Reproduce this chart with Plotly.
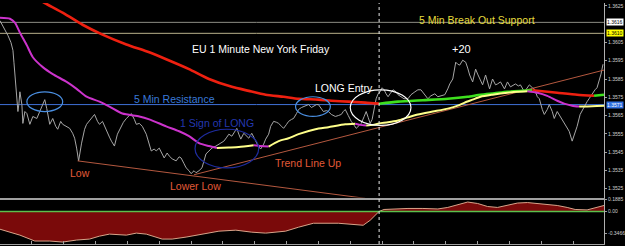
import plotly.graph_objects as go

# ---------------- data ----------------
bars = [0, 4, 8, 11, 13, 14, 15, 16, 17, 18, 19, 20, 22, 23, 25, 27, 30, 33, 37, 40,
        43, 45, 47, 50, 53, 56, 58, 61, 63, 66, 70, 73, 75, 77, 79, 82, 85, 87, 90, 92,
        95, 98, 100, 103, 107, 110, 112, 115, 118, 121, 124, 127, 130, 132, 135, 137, 140, 143, 147, 150,
        152, 155, 157, 160, 163, 165, 168, 170, 173, 177, 180, 182, 185, 187, 190, 192, 195, 197, 200, 203,
        205, 207, 210, 213, 217, 220, 223, 225, 228, 230, 233, 235, 238, 240, 242, 245, 248, 250, 253, 256,
        258, 260, 262, 265, 267, 270, 272, 275, 278, 280, 283, 285, 288, 290, 293, 295, 298, 300, 303, 305,
        308, 310, 313, 315, 318, 320, 323, 325, 328, 330, 333, 337, 340, 343, 345, 347, 350, 353, 356, 358,
        361, 363, 366, 368, 370, 372, 374, 375, 377, 378, 380, 382, 384, 386, 388, 390, 392, 395, 398, 400,
        403, 406, 410, 413, 417, 420, 423, 427, 430, 433, 437, 440, 443, 447, 450, 452, 455, 457, 458, 460,
        462, 465, 468, 470, 472, 475, 477, 478, 480, 482, 485, 488, 490, 492, 495, 498, 500, 503, 507, 510,
        513, 516, 518, 521, 523, 527, 530, 532, 535, 537, 540, 542, 545, 547, 550, 552, 555, 557, 560, 563,
        567, 570, 572, 575, 578, 580, 583, 586, 588, 590, 592, 594, 596, 598, 600, 602, 604, 606]
price = [1.36169, 1.36131, 1.36088, 1.36050, 1.36007, 1.35942, 1.35861, 1.35791, 1.35726, 1.35672,
         1.35715, 1.35780, 1.35710, 1.35607, 1.35672, 1.35661, 1.35602, 1.35645, 1.35634, 1.35672,
         1.35710, 1.35737, 1.35688, 1.35602, 1.35634, 1.35591, 1.35575, 1.35618, 1.35602, 1.35591,
         1.35580, 1.35553, 1.35526, 1.35472, 1.35402, 1.35499, 1.35575, 1.35602, 1.35623, 1.35634,
         1.35656, 1.35618, 1.35602, 1.35618, 1.35564, 1.35532, 1.35510, 1.35483, 1.35548, 1.35580,
         1.35613, 1.35634, 1.35650, 1.35661, 1.35629, 1.35602, 1.35607, 1.35591, 1.35548, 1.35494,
         1.35456, 1.35467, 1.35456, 1.35472, 1.35440, 1.35418, 1.35445, 1.35429, 1.35413, 1.35402,
         1.35424, 1.35418, 1.35386, 1.35364, 1.35348, 1.35332, 1.35348, 1.35337, 1.35348, 1.35364,
         1.35402, 1.35440, 1.35456, 1.35472, 1.35483, 1.35494, 1.35505, 1.35510, 1.35532, 1.35548,
         1.35537, 1.35553, 1.35580, 1.35548, 1.35521, 1.35553, 1.35537, 1.35526, 1.35553, 1.35521,
         1.35494, 1.35478, 1.35467, 1.35494, 1.35521, 1.35548, 1.35591, 1.35618, 1.35613, 1.35607,
         1.35591, 1.35580, 1.35602, 1.35618, 1.35629, 1.35634, 1.35661, 1.35683, 1.35694, 1.35699,
         1.35704, 1.35710, 1.35694, 1.35699, 1.35710, 1.35710, 1.35688, 1.35672, 1.35677, 1.35672,
         1.35656, 1.35645, 1.35650, 1.35656, 1.35672, 1.35683, 1.35650, 1.35618, 1.35596, 1.35580,
         1.35596, 1.35607, 1.35645, 1.35672, 1.35640, 1.35607, 1.35629, 1.35656, 1.35704, 1.35742,
         1.35769, 1.35780, 1.35802, 1.35791, 1.35769, 1.35753, 1.35769, 1.35791, 1.35780, 1.35764,
         1.35753, 1.35742, 1.35742, 1.35764, 1.35780, 1.35791, 1.35791, 1.35764, 1.35742, 1.35758,
         1.35769, 1.35753, 1.35758, 1.35764, 1.35796, 1.35823, 1.35850, 1.35899, 1.35942, 1.35931,
         1.35926, 1.35953, 1.35942, 1.35910, 1.35872, 1.35834, 1.35877, 1.35904, 1.35877, 1.35850,
         1.35818, 1.35872, 1.35834, 1.35796, 1.35850, 1.35818, 1.35823, 1.35834, 1.35796, 1.35834,
         1.35807, 1.35818, 1.35823, 1.35812, 1.35818, 1.35780, 1.35802, 1.35818, 1.35802, 1.35796,
         1.35753, 1.35742, 1.35683, 1.35656, 1.35683, 1.35710, 1.35672, 1.35634, 1.35672, 1.35645,
         1.35602, 1.35580, 1.35564, 1.35510, 1.35553, 1.35591, 1.35656, 1.35688, 1.35710, 1.35726,
         1.35742, 1.35758, 1.35780, 1.35791, 1.35802, 1.35834, 1.35877, 1.35931]

slow_ma_bars = [0, 20, 45, 65, 83, 103, 127, 150, 167, 190, 210, 233, 250, 267, 285, 300, 320, 333,
                350, 367, 381, 400, 425, 450, 470, 483, 497, 510, 525, 535, 545, 560, 580, 597, 607]
slow_ma = [1.36406, 1.36342, 1.36266, 1.36207, 1.36147, 1.36093, 1.36039, 1.35996, 1.35958, 1.35904,
           1.35850, 1.35807, 1.35785, 1.35764, 1.35753, 1.35742, 1.35737, 1.35731, 1.35726, 1.35721,
           1.35715, 1.35726, 1.35734, 1.35742, 1.35753, 1.35764, 1.35772, 1.35780, 1.35785, 1.35788,
           1.35783, 1.35775, 1.35764, 1.35758, 1.35764]

fast_ma_bars = [0, 10, 15, 20, 27, 33, 43, 53, 67, 77, 87, 100, 110, 123, 140, 150, 167, 180, 190, 200,
                210, 218, 230, 240, 255, 262, 270, 280, 290, 300, 317, 330, 347, 357, 362, 368, 375, 381,
                390, 400, 410, 420, 435, 450, 460, 467, 475, 483, 495, 510, 520, 530, 540, 550, 560, 567,
                575, 582, 590, 600, 607]
fast_ma = [1.36185, 1.36180, 1.36158, 1.36104, 1.36034, 1.35969, 1.35915, 1.35877, 1.35834, 1.35796,
           1.35753, 1.35726, 1.35699, 1.35661, 1.35645, 1.35629, 1.35591, 1.35564, 1.35537, 1.35499,
           1.35483, 1.35472, 1.35475, 1.35478, 1.35488, 1.35483, 1.35480, 1.35510, 1.35526, 1.35548,
           1.35575, 1.35586, 1.35602, 1.35605, 1.35599, 1.35596, 1.35599, 1.35607, 1.35613, 1.35623,
           1.35640, 1.35656, 1.35672, 1.35688, 1.35704, 1.35721, 1.35737, 1.35753, 1.35764, 1.35775,
           1.35780, 1.35783, 1.35775, 1.35758, 1.35731, 1.35715, 1.35704, 1.35699, 1.35700, 1.35702,
           1.35704]

osc_bars = [0, 7, 20, 35, 50, 63, 77, 90, 100, 110, 127, 137, 147, 163, 173, 187, 207, 220, 237, 253,
            267, 287, 300, 315, 340, 355, 365, 372, 377, 381, 386, 395, 410, 425, 440, 450, 460, 470,
            480, 490, 500, 510, 520, 530, 540, 550, 560, 570, 578, 590, 600, 607]
osc = [-0.283, -0.314, -0.377, -0.471, -0.471, -0.487, -0.455, -0.440, -0.393, -0.361,
       -0.377, -0.345, -0.361, -0.440, -0.440, -0.408, -0.345, -0.314, -0.298, -0.330,
       -0.345, -0.314, -0.251, -0.188, -0.188, -0.204, -0.220, -0.141, -0.063, 0.0,
       0.031, 0.039, 0.047, 0.047, 0.039, 0.063, 0.110, 0.149, 0.126, 0.078,
       0.063, 0.094, 0.133, 0.141, 0.126, 0.110, 0.094, 0.063, 0.031, 0.024,
       0.063, 0.094]

price_ticks = [1.3625, 1.3605, 1.3595, 1.3585, 1.3575, 1.3565, 1.3555, 1.3545, 1.3535, 1.3525]
osc_ticks = [0.1885, 0.0, -0.3466]
osc_tick_labels = ["0.1885", "0.00", "-0.3466"]

level_top = 1.3616        # grey horizontal line
level_support = 1.3610    # 5 Min Break Out Support
level_resist = 1.3571     # 5 Min Resistance
entry_bar = 381

trend_low_bars = [78, 367]
trend_low_price = [1.35402, 1.35197]
trend_up_bars = [195, 607]
trend_up_price = [1.35326, 1.35899]

# ellipses: (bar0, bar1, price_low, price_high)
ell_blue1 = (27, 63, 1.35672, 1.35780)
ell_blue2 = (297, 332, 1.35645, 1.35753)
ell_navy = (196, 260, 1.35364, 1.35575)
ell_white = (352, 413, 1.35596, 1.35791)

# ---------------- helpers ----------------
def runs(xs, ys):
    out = []
    start = 0
    cur = ys[1] >= ys[0]
    for i in range(1, len(ys)):
        r = ys[i] >= ys[i - 1]
        if r != cur:
            out.append((cur, xs[start:i], ys[start:i]))
            start = i - 1
            cur = r
    out.append((cur, xs[start:], ys[start:]))
    return out

FONT = "Liberation Sans, Arial, sans-serif"
fig = go.Figure()

# price line
fig.add_trace(go.Scatter(x=bars, y=price, mode="lines",
                         line=dict(color="#a6a6a6", width=1), xaxis="x", yaxis="y",
                         hoverinfo="skip"))

# trend lines
for xs, ys in ((trend_low_bars, trend_low_price), (trend_up_bars, trend_up_price)):
    fig.add_trace(go.Scatter(x=xs, y=ys, mode="lines", line=dict(color="#b4583f", width=1),
                             xaxis="x", yaxis="y", hoverinfo="skip", cliponaxis=True))

# slow MA (red falling / green rising)
for rising, xs, ys in runs(slow_ma_bars, slow_ma):
    fig.add_trace(go.Scatter(x=xs, y=ys, mode="lines",
                             line=dict(color="#3ee01e" if rising else "#ee2010", width=2.6,
                                       shape="spline", smoothing=0.6),
                             xaxis="x", yaxis="y", hoverinfo="skip"))

# fast MA (magenta falling / yellow rising)
for rising, xs, ys in runs(fast_ma_bars, fast_ma):
    fig.add_trace(go.Scatter(x=xs, y=ys, mode="lines",
                             line=dict(color="#ffff8a" if rising else "#cc33cc", width=2,
                                       shape="spline", smoothing=0.6),
                             xaxis="x", yaxis="y", hoverinfo="skip"))

# oscillator
fig.add_trace(go.Scatter(x=osc_bars, y=osc, mode="lines", fill="tozeroy",
                         fillcolor="#7a0a0a", line=dict(color="#d8a48a", width=1),
                         xaxis="x2", yaxis="y2", hoverinfo="skip"))

shapes = []
for lvl, col in ((level_top, "#8c8c84"), (level_support, "#b8b08a"), (level_resist, "#3f70d6")):
    shapes.append(dict(type="line", xref="paper", x0=0, x1=1, yref="y", y0=lvl, y1=lvl,
                       line=dict(color=col, width=1), layer="below"))
shapes.append(dict(type="line", xref="paper", x0=0, x1=1, yref="y2", y0=0, y1=0,
                   line=dict(color="#5cc04c", width=1.5)))
for (b0, b1, p0, p1), col in ((ell_blue1, "#4a8ee0"), (ell_blue2, "#4a8ee0"),
                              (ell_navy, "#1e2c9e"), (ell_white, "#ffffff")):
    shapes.append(dict(type="circle", xref="x", yref="y", x0=b0, x1=b1, y0=p0, y1=p1,
                       line=dict(color=col, width=1.2)))
shapes.append(dict(type="line", xref="x", x0=entry_bar, x1=entry_bar, yref="paper", y0=0, y1=1,
                   line=dict(color="#e8e8e8", width=1, dash="3px,3px")))

annotations = []
def txt(x, y, s, color, size=10):
    annotations.append(dict(x=x, y=y, xref="x", yref="y", text=s, showarrow=False,
                            xanchor="left", yanchor="middle",
                            font=dict(family=FONT, size=size, color=color)))

txt(191, 1.36012, "EU 1 Minute New York Friday", "#ffffff", 10.5)
txt(133, 1.35742, "5 Min Resistance", "#3a7ad8", 10.5)
txt(315, 1.35802, "LONG Entry", "#ffffff", 10.5)
txt(452, 1.36012, "+20", "#ffffff", 11)
txt(419, 1.36174, "5 Min Break Out Support", "#e6dc3c", 10.5)
txt(179, 1.35607, "1 Sign of LONG", "#2438b0", 10.5)
txt(274, 1.35391, "Trend Line Up", "#e05a38", 10.5)
txt(68, 1.35337, "Low", "#e05a38", 10.5)
txt(169, 1.35262, "Lower Low", "#e05a38", 10.5)

for lvl, bg, fg in ((level_top, "#ffffff", "#000000"), (level_support, "#ffff00", "#000000"),
                    (level_resist, "#2f6fe0", "#ffffff")):
    annotations.append(dict(x=1, xref="paper", y=lvl, yref="y", text=f"{lvl:.4f}",
                            showarrow=False, xanchor="left", yanchor="middle", xshift=2,
                            bgcolor=bg, borderpad=0,
                            font=dict(family=FONT, size=5, color=fg)))

axis_font = dict(family=FONT, size=5, color="#d0d0d0")
fig.update_layout(
    width=625, height=246,
    margin=dict(l=0, r=18, t=0, b=2),
    paper_bgcolor="#000000", plot_bgcolor="#000000",
    showlegend=False,
    xaxis=dict(domain=[0, 1], range=[0, 607], anchor="y", showticklabels=False,
               showgrid=False, zeroline=False, showline=True, linecolor="#a0a0a0",
               linewidth=1, ticks=""),
    yaxis=dict(domain=[0.1926, 1], range=[1.35201, 1.36266], anchor="x", side="right",
               tickvals=price_ticks, tickformat=".4f", tickfont=axis_font,
               ticks="outside", ticklen=2, tickcolor="#a0a0a0",
               showgrid=False, zeroline=False, showline=True, linecolor="#b0b0b0"),
    xaxis2=dict(domain=[0, 1], range=[0, 607], anchor="y2", showticklabels=False,
                showgrid=False, zeroline=False, showline=True, mirror=True,
                linecolor="#a0a0a0", ticks="inside", ticklen=3, tickcolor="#a0a0a0",
                tick0=0, dtick=32),
    yaxis2=dict(domain=[0, 0.1844], range=[-0.518, 0.1885], anchor="x2", side="right",
                tickvals=osc_ticks, ticktext=osc_tick_labels, tickfont=axis_font,
                ticks="outside", ticklen=2, tickcolor="#a0a0a0",
                showgrid=False, zeroline=False, showline=True, linecolor="#b0b0b0"),
    shapes=shapes,
    annotations=annotations,
)

fig.write_html("out.html")
